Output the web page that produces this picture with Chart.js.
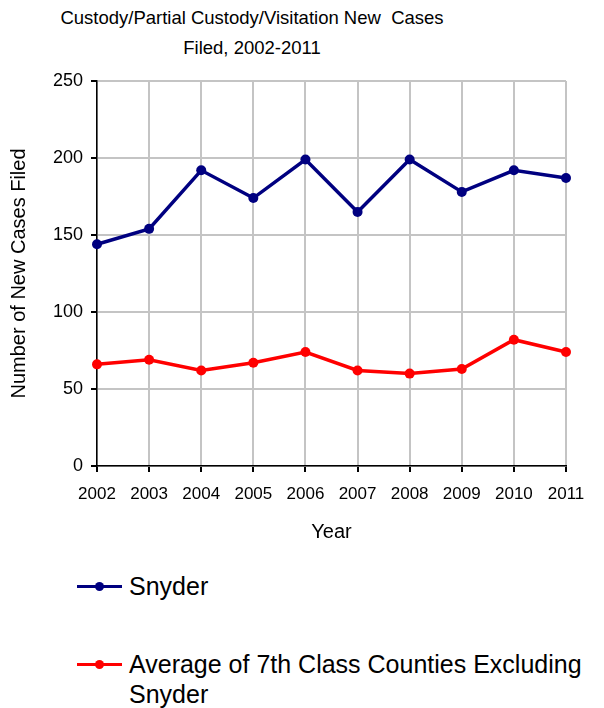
<!DOCTYPE html>
<html>
<head>
<meta charset="utf-8">
<script src="https://cdn.jsdelivr.net/npm/chart.js@4.4.1/dist/chart.umd.min.js"></script>
<style>
    body { margin: 0; background: #fff; font-family: "Liberation Sans", Arial, sans-serif; }
    #wrap { position: relative; width: 604px; height: 708px; }
    #chart-box { position: absolute; left: 0; top: 0; width: 604px; height: 560px; }
    #title { position: absolute; left: 0; top: 3px; width: 504px; text-align: center; font-size: 18.5px; line-height: 30px; color: #000; }
    #legend { position: absolute; left: 77px; top: 571px; }
    .leg-item { display: flex; align-items: flex-start; margin-bottom: 48px; }
    .leg-mark { position: relative; width: 45px; height: 30px; margin-right: 7px; flex: none; }
    .leg-mark .ln { position: absolute; left: 0; top: 13.5px; width: 45px; height: 3px; }
    .leg-mark .dot { position: absolute; left: 18px; top: 10.5px; width: 9px; height: 9px; border-radius: 50%; }
    .leg-text { font-size: 25px; line-height: 30px; max-width: 470px; color: #000; }
</style>
</head>
<body>
<div id="wrap">
    <div id="title">Custody/Partial Custody/Visitation New&nbsp; Cases<br>Filed, 2002-2011</div>
    <div id="chart-box"><canvas id="myChart"></canvas></div>
    <div id="legend"></div>
</div>
<script>
// data
var years = ["2002", "2003", "2004", "2005", "2006", "2007", "2008", "2009", "2010", "2011"];
var snyder = [144, 154, 192, 174, 199, 165, 199, 178, 192, 187];
var avg7th = [66, 69, 62, 67, 74, 62, 60, 63, 82, 74];
var seriesNames = ["Snyder", "Average of 7th Class Counties Excluding Snyder"];
var seriesColors = ["#000080", "#ff0000"];
var yTicks = [0, 50, 100, 150, 200, 250];

var fontFam = '"Liberation Sans", Arial, sans-serif';

const ctx = document.getElementById('myChart').getContext('2d');
const myChart = new Chart(ctx, {
    type: 'line',
    data: {
        labels: years,
        datasets: [{
            label: seriesNames[0],
            data: snyder,
            borderColor: seriesColors[0],
            backgroundColor: seriesColors[0],
            borderWidth: 3.5,
            pointRadius: 5,
            pointBackgroundColor: seriesColors[0],
            pointBorderWidth: 0,
            tension: 0,
            clip: false
        }, {
            label: seriesNames[1],
            data: avg7th,
            borderColor: seriesColors[1],
            backgroundColor: seriesColors[1],
            borderWidth: 3.5,
            pointRadius: 5,
            pointBackgroundColor: seriesColors[1],
            pointBorderWidth: 0,
            tension: 0,
            clip: false
        }]
    },
    options: {
        responsive: true,
        maintainAspectRatio: false,
        animation: false,
        layout: { padding: { top: 81, right: 38, left: 0, bottom: 0 } },
        plugins: {
            legend: { display: false },
            title: { display: false },
            tooltip: { enabled: false }
        },
        scales: {
            x: {
                offset: false,
                grid: { color: '#c4c4c4', lineWidth: 2, tickColor: '#000', tickLength: 6 },
                border: { color: '#000', width: 1.5 },
                ticks: { color: '#000', font: { family: fontFam, size: 17 }, padding: 12, autoSkip: false, maxRotation: 0 },
                title: { display: true, text: 'Year', color: '#000', font: { family: fontFam, size: 20 }, padding: { top: 0, bottom: 16 } },
                afterFit: function(scale) { scale.height = 94; }
            },
            y: {
                min: 0,
                max: 250,
                afterBuildTicks: function(scale) { scale.ticks = yTicks.map(function(v) { return { value: v }; }); },
                grid: { color: '#c4c4c4', lineWidth: 2, tickColor: '#000', tickLength: 6 },
                border: { color: '#000', width: 1.5 },
                ticks: { color: '#000', font: { family: fontFam, size: 18 }, padding: 8 },
                title: { display: true, text: 'Number of New Cases Filed', color: '#000', font: { family: fontFam, size: 20 }, padding: { top: 7, bottom: 0 } },
                afterFit: function(scale) { scale.width = 97; }
            }
        }
    }
});

// html legend so the long label can wrap
var legendHtml = '';
myChart.data.datasets.forEach(function(ds) {
    legendHtml += '<div class="leg-item"><div class="leg-mark">' +
        '<div class="ln" style="background:' + ds.borderColor + '"></div>' +
        '<div class="dot" style="background:' + ds.borderColor + '"></div></div>' +
        '<div class="leg-text">' + ds.label + '</div></div>';
});
document.getElementById('legend').innerHTML = legendHtml;
</script>
</body>
</html>
